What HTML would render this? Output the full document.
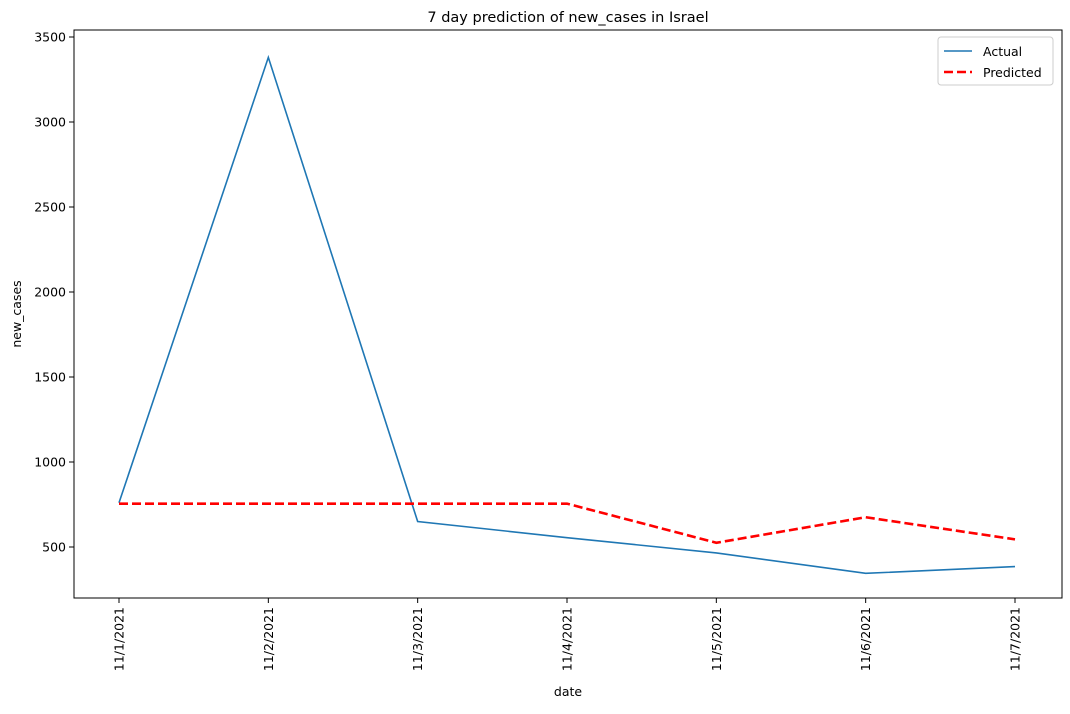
<!DOCTYPE html>
<html><head><meta charset="utf-8"><style>
body{margin:0;background:#fff;font-family:"Liberation Sans","DejaVu Sans",sans-serif}
</style></head><body>
<svg width="1070" height="709" xmlns="http://www.w3.org/2000/svg" font-family="'DejaVu Sans','Liberation Sans',sans-serif">
<text x="568" y="22" text-anchor="middle" font-size="14.5">7 day prediction of new_cases in Israel</text>
<rect x="74" y="30" width="988" height="568" fill="none" stroke="#000" stroke-width="1"/>
<g id="yticks"></g>
<g id="xticks"></g>
<text x="568" y="696" text-anchor="middle" font-size="12.5">date</text>
<text transform="translate(21,314) rotate(-90)" text-anchor="middle" font-size="12.5">new_cases</text>
<path id="actual" fill="none" stroke="#1f77b4" stroke-width="1.6"/>
<path id="pred" fill="none" stroke="#ff0000" stroke-width="2.6" stroke-dasharray="9,4"/>
<g>
<rect x="938" y="37" width="115" height="48" fill="#fff" stroke="#ccc" rx="3"/>
<line x1="944" y1="51" x2="972" y2="51" stroke="#1f77b4" stroke-width="1.6"/>
<text x="983" y="56" font-size="12.5">Actual</text>
<line x1="944" y1="72" x2="972" y2="72" stroke="#ff0000" stroke-width="2.6" stroke-dasharray="9,4"/>
<text x="983" y="77" font-size="12.5">Predicted</text>
</g>
</svg>
<script>
const categories=["11/1/2021","11/2/2021","11/3/2021","11/4/2021","11/5/2021","11/6/2021","11/7/2021"];
const actualValues=[760,3380,650,555,465,345,385];
const predictedValues=[755,755,755,755,525,675,545];
const yTicks=[500,1000,1500,2000,2500,3000,3500];
const NS="http://www.w3.org/2000/svg";
function xs(i){return 119+i*(1015-119)/(categories.length-1);}
function ys(v){return 547-(v-500)*0.17;}
const yg=document.getElementById('yticks'),xg=document.getElementById('xticks');
yTicks.forEach(t=>{
 const l=document.createElementNS(NS,'line');
 
 
 l.setAttribute('x1',69);l.setAttribute('x2',74);l.setAttribute('y1',ys(t));l.setAttribute('y2',ys(t));l.setAttribute('stroke','#000');yg.appendChild(l);
 const s=document.createElementNS(NS,'text');
 
 
 s.setAttribute('x',66);s.setAttribute('y',ys(t)+4.5);s.setAttribute('text-anchor','end');s.setAttribute('font-size','12.5');s.textContent=t;yg.appendChild(s);
});
categories.forEach((c,i)=>{
 const l=document.createElementNS(NS,'line');
 
 
 l.setAttribute('x1',xs(i));l.setAttribute('x2',xs(i));l.setAttribute('y1',598);l.setAttribute('y2',603);l.setAttribute('stroke','#000');xg.appendChild(l);
 const s=document.createElementNS(NS,'text');
 
 
 s.setAttribute('transform','translate('+(xs(i)+4.5)+',607) rotate(-90)');s.setAttribute('text-anchor','end');s.setAttribute('font-size','12.5');s.textContent=c;xg.appendChild(s);
});
function path(vals){return vals.map((v,i)=>(i?'L':'M')+xs(i)+','+ys(v)).join(' ');}
document.getElementById('actual').setAttribute('d',path(actualValues));
document.getElementById('pred').setAttribute('d',path(predictedValues));
</script>
</body></html>
